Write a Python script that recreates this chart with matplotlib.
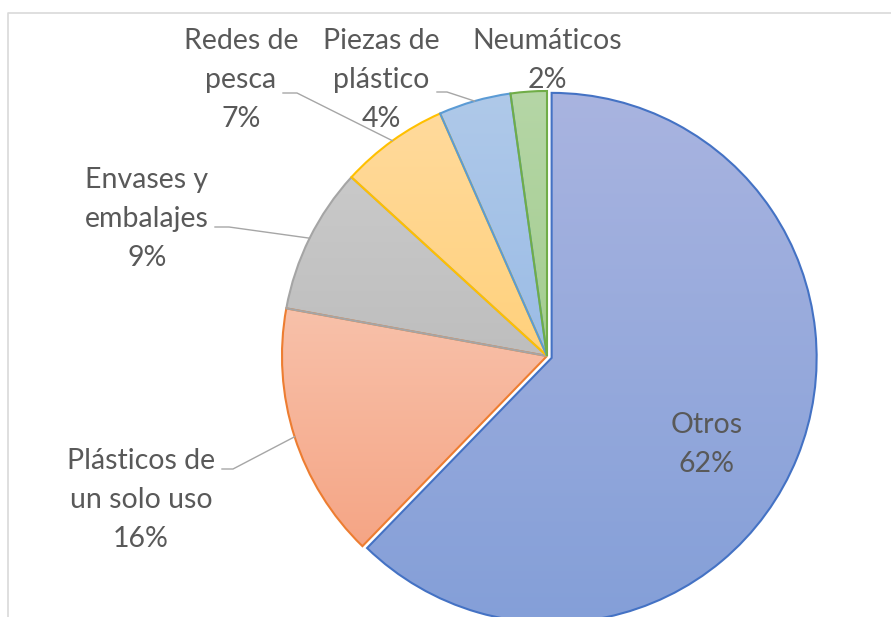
import numpy as np
import matplotlib
matplotlib.use("Agg")
import matplotlib.pyplot as plt
from matplotlib.colors import to_rgb

# slice data (percent)
categories = ["Otros", "Plásticos de un solo uso", "Envases y embalajes",
              "Redes de pesca", "Piezas de plástico", "Neumáticos"]
values = [62.2, 15.6, 8.9, 6.6, 4.4, 2.2]
label_lines = [["Otros"], ["Plásticos de", "un solo uso"], ["Envases y", "embalajes"],
               ["Redes de", "pesca"], ["Piezas de", "plástico"], ["Neumáticos"]]

edge_colors = ["#4472C4", "#ED7D31", "#A5A5A5", "#FFC000", "#5B9BD5", "#70AD47"]
grad_top = ["#A9B4E0", "#F8C1AA", "#C9C9C9", "#FFDA9C", "#AFC9E9", "#B5D6A6"]
grad_bot = ["#849FD8", "#F5A585", "#BEBEBE", "#FFD17C", "#9BBCE6", "#A4CD90"]

W, H = 891, 617
fig = plt.figure(figsize=(W / 100, H / 100), dpi=100)
ax = fig.add_axes([0, 0, 1, 1])

cx, cy, R = 547, H - 356, 265
# explode is an absolute offset in data units (px here)
explode = [5, 0, 0, 0, 0, 0]

wedges, _ = ax.pie(values, center=(cx, cy), radius=R, startangle=90,
                   counterclock=False, explode=explode,
                   wedgeprops=dict(linewidth=1.5))

for i, w in enumerate(wedges):
    w.set_facecolor("none")
    w.set_edgecolor(edge_colors[i])
    w.set_zorder(3)
    bb = w.get_path().get_extents()
    t = np.linspace(0, 1, 256)[:, None]
    img = (1 - t) * np.array(to_rgb(grad_bot[i])) + t * np.array(to_rgb(grad_top[i]))
    im = ax.imshow(img[:, None, :], extent=[bb.x0, bb.x1, bb.y0, bb.y1],
                   origin="lower", aspect="auto", zorder=2, interpolation="bilinear")
    im.set_clip_path(w)

# labels: (x center, first baseline y in px from top)
label_pos = [(707, 433), (141, 469), (147, 188), (241, 49), (381, 49), (547, 49)]
# leader lines: label end, elbow
leaders = {1: ((222, 469), (233, 469)), 2: ((215, 227), (229, 227)),
           3: ((283, 93), (297, 93)), 4: ((437, 92), (447, 92))}

fs = 20.5
tcol = "#595959"
total = sum(values)
for i, lines in enumerate(label_lines):
    pct = "{:.0f}%".format(values[i] / total * 100)
    x, y0 = label_pos[i]
    for k, s in enumerate(lines + [pct]):
        ax.text(x, H - (y0 + 39 * k), s, ha="center", va="baseline",
                fontsize=fs, color=tcol, family="Lato", zorder=5)

angles = 90 - np.cumsum([0] + values) / total * 360
for i, (p0, p1) in leaders.items():
    mid = np.deg2rad((angles[i] + angles[i + 1]) / 2)
    ex, ey = cx + R * np.cos(mid), cy + R * np.sin(mid)
    ax.plot([p0[0], p1[0], ex], [H - p0[1], H - p1[1], ey],
            color="#A6A6A6", lw=1.0, zorder=4)

# chart frame (partially cropped)
ax.plot([8, 8, W + 5], [-5, H - 13, H - 13], color="#D9D9D9", lw=1.2, zorder=1)

ax.set_xlim(0, W)
ax.set_ylim(0, H)
ax.axis("off")

fig.savefig("out.png", dpi=100)
